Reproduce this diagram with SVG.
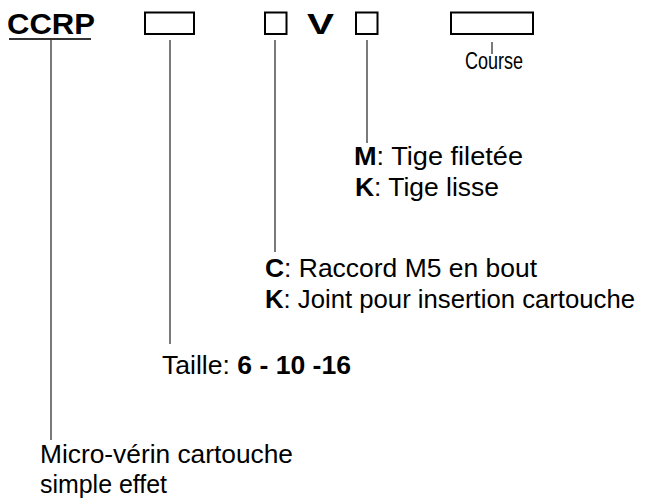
<svg xmlns="http://www.w3.org/2000/svg" width="649" height="501" viewBox="0 0 649 501">
<style>
text{font-family:"Liberation Sans",Arial,sans-serif;fill:#000}
.t{font-size:25px}
.b{font-weight:bold}
.box{fill:#fff;stroke:#000;stroke-width:2}
.ln{stroke:#333;stroke-width:1.3;fill:none}
</style>
<rect width="649" height="501" fill="#fff"/>
<g id="code">
<text x="7" y="34" font-size="29" class="b" textLength="88" lengthAdjust="spacingAndGlyphs">CCRP</text>
<line x1="9" y1="39" x2="91" y2="39" stroke="#333" stroke-width="2"/>
</g>
<g id="box-taille"><rect class="box" x="145" y="12.5" width="49" height="21.5"/></g>
<g id="box-raccord"><rect class="box" x="265" y="12.5" width="21.5" height="21.5"/></g>
<g id="v"><text x="307" y="34" font-size="29" class="b" textLength="27" lengthAdjust="spacingAndGlyphs">V</text></g>
<g id="box-tige"><rect class="box" x="356" y="12.5" width="21.5" height="21.5"/></g>
<g id="box-course"><rect class="box" x="451" y="12.5" width="82" height="21.5"/>
<text x="465" y="69" font-size="23" textLength="58" lengthAdjust="spacingAndGlyphs">Course</text></g>
<g id="connectors">
<line class="ln" x1="51" y1="40" x2="51" y2="440"/>
<line class="ln" x1="170" y1="40" x2="170" y2="344"/>
<line class="ln" x1="275" y1="40" x2="275" y2="252"/>
<line class="ln" x1="367" y1="40" x2="367" y2="143"/>
<line class="ln" x1="492" y1="42" x2="492" y2="54"/>
</g>
<g id="label-tige">
<text x="354" y="165" class="t" textLength="169" lengthAdjust="spacingAndGlyphs"><tspan class="b">M</tspan>: Tige filetée</text>
<text x="355" y="196" class="t" textLength="144" lengthAdjust="spacingAndGlyphs"><tspan class="b">K</tspan>: Tige lisse</text>
</g>
<g id="label-raccord">
<text x="265" y="277" class="t" textLength="272" lengthAdjust="spacingAndGlyphs"><tspan class="b">C</tspan>: Raccord M5 en bout</text>
<text x="265" y="308" class="t" textLength="370" lengthAdjust="spacingAndGlyphs"><tspan class="b">K</tspan>: Joint pour insertion cartouche</text>
</g>
<g id="label-taille">
<text x="162" y="374" class="t" textLength="189" lengthAdjust="spacingAndGlyphs">Taille: <tspan class="b">6 - 10 -16</tspan></text>
</g>
<g id="label-code">
<text x="40" y="463" class="t" textLength="253" lengthAdjust="spacingAndGlyphs">Micro-vérin cartouche</text>
<text x="40" y="493" class="t" textLength="127" lengthAdjust="spacingAndGlyphs">simple effet</text>
</g>
</svg>
